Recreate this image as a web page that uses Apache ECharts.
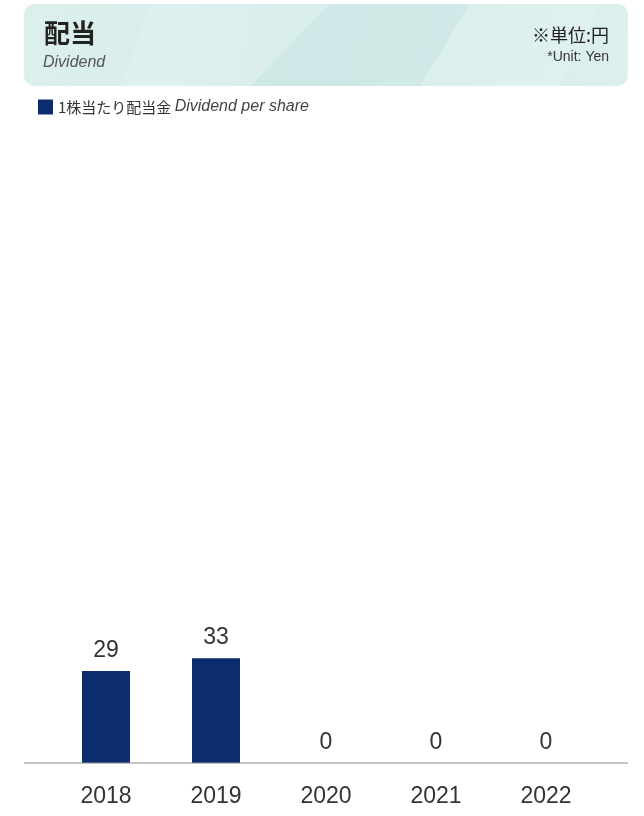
<!DOCTYPE html>
<html><head><meta charset="utf-8">
<script src="https://cdn.jsdelivr.net/npm/echarts@6/dist/echarts.min.js"></script>
<style>html,body{margin:0;padding:0;background:#fff}#c{width:644px;height:816px}</style>
</head><body><div id="c"></div>
<script>
const categories = ['2018', '2019', '2020', '2021', '2022'];
const dividendPerShare = [29, 33, 0, 0, 0];
const seriesName = '1株当たり配当金';

const chart = echarts.init(document.getElementById('c'), null, {renderer: 'canvas'});
const jp = '"Noto Sans CJK JP", sans-serif';
const lat = '"Liberation Sans", Arial, sans-serif';
chart.setOption({
  animation: false,
  graphic: [
    {type: 'rect', shape: {x: 24, y: 4, width: 604, height: 82, r: 10}, z: 0,
     style: {fill: new echarts.graphic.LinearGradient(0, 0, 1, 1, [
       {offset: 0, color: '#dcefed'}, {offset: 0.5, color: '#d3ebe9'}, {offset: 1, color: '#dcf0ee'}])}},
    {type: 'polygon', shape: {points: [[150, 4], [330, 4], [250, 86], [120, 86]]}, z: 1, style: {fill: 'rgba(255,255,255,0.15)'}},
    {type: 'polygon', shape: {points: [[330, 4], [470, 4], [420, 86], [250, 86]]}, z: 1, style: {fill: 'rgba(160,210,205,0.10)'}},
    {type: 'polygon', shape: {points: [[470, 4], [600, 4], [560, 86], [420, 86]]}, z: 1, style: {fill: 'rgba(255,255,255,0.13)'}},
    {type: 'text', left: 44, top: 20, z: 2, style: {text: '配当', font: 'bold 26px ' + jp, fill: '#222'}},
    {type: 'text', left: 43, top: 55, z: 2, style: {text: 'Dividend', font: 'italic 16px ' + lat, fill: '#555'}},
    {type: 'text', right: 35, top: 26, z: 2, style: {text: '※単位:円', font: '18px ' + jp, fill: '#222', align: 'right'}},
    {type: 'text', right: 35, top: 50, z: 2, style: {text: '*Unit: Yen', font: '14px ' + lat, fill: '#333', align: 'right'}},
    {type: 'line', shape: {x1: 24, y1: 763, x2: 628, y2: 763}, z: 3, style: {stroke: '#8a8a8a', lineWidth: 1}}
  ],
  legend: {
    left: 38, top: 99, padding: 0, icon: 'rect', itemWidth: 15, itemHeight: 15, itemGap: 6,
    data: [seriesName],
    formatter: function (n) { return '{a|' + n + '} {b|Dividend per share}'; },
    textStyle: {rich: {
      a: {fontFamily: jp, fontSize: 15, color: '#333'},
      b: {fontFamily: lat, fontSize: 16, fontStyle: 'italic', color: '#444'}
    }}
  },
  grid: {left: 51, top: 128, width: 550, height: 635, containLabel: false},
  xAxis: {
    type: 'category', data: categories,
    axisLine: {show: false}, axisTick: {show: false},
    axisLabel: {fontFamily: lat, fontSize: 23, color: '#333', margin: 22}
  },
  yAxis: {type: 'value', min: 0, max: 200, show: false, splitLine: {show: false}},
  series: [{
    name: seriesName, type: 'bar', data: dividendPerShare, barWidth: 48,
    itemStyle: {color: '#0b2d6f'},
    label: {show: true, position: 'top', distance: 9, fontFamily: lat, fontSize: 23, color: '#333'}
  }]
});
</script></body></html>
